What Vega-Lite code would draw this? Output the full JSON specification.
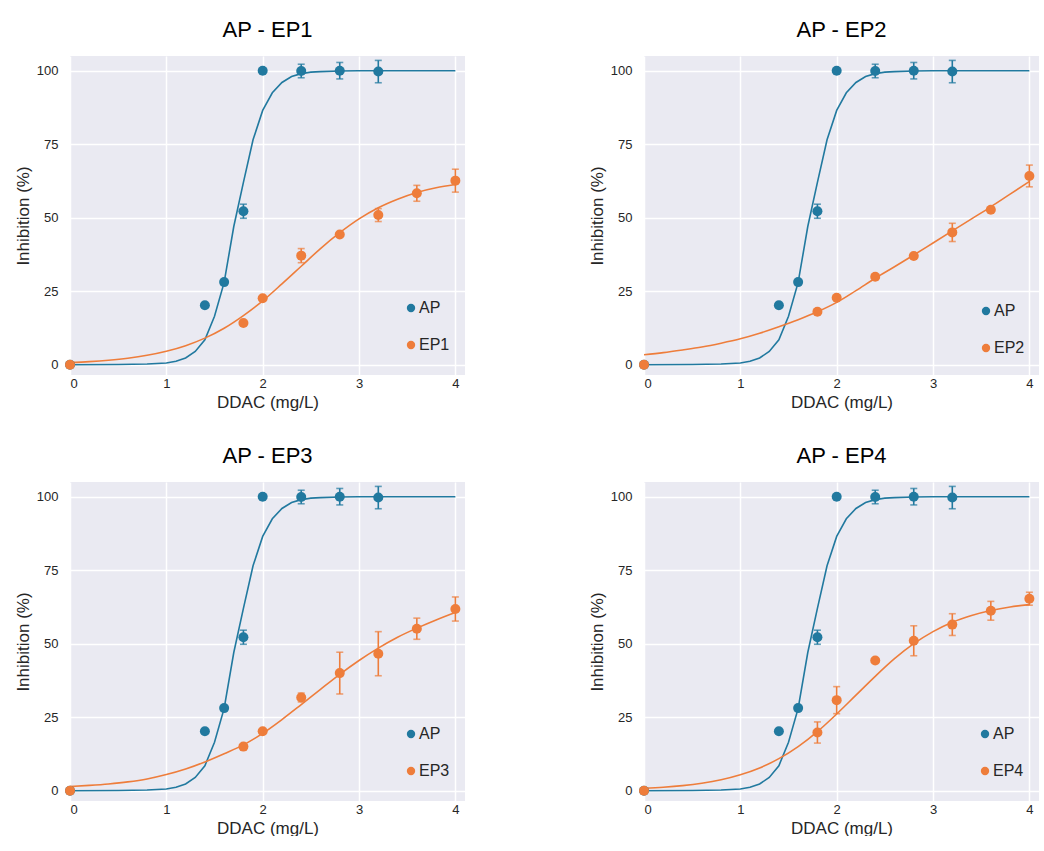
{
  "$schema": "https://vega.github.io/schema/vega-lite/v6.json",
  "background": "white",
  "padding": {"left": 14, "top": 19, "right": 0, "bottom": 0},
  "columns": 2,
  "spacing": {"row": 35, "column": 123},
  "datasets": {
    "pts": [
      {"s": "AP", "x": 0, "y": 0, "err": 0},
      {"s": "AP", "x": 1.4, "y": 20.2, "err": 0},
      {"s": "AP", "x": 1.6, "y": 28.1, "err": 0},
      {"s": "AP", "x": 1.8, "y": 52.2, "err": 2.4},
      {"s": "AP", "x": 2.0, "y": 100, "err": 0},
      {"s": "AP", "x": 2.4, "y": 99.9, "err": 2.3},
      {"s": "AP", "x": 2.8, "y": 100, "err": 2.8},
      {"s": "AP", "x": 3.2, "y": 99.7, "err": 3.8},
      {"s": "EP1", "x": 0, "y": 0, "err": 0},
      {"s": "EP1", "x": 1.8, "y": 14.2, "err": 0},
      {"s": "EP1", "x": 2.0, "y": 22.6, "err": 0},
      {"s": "EP1", "x": 2.4, "y": 37.1, "err": 2.4},
      {"s": "EP1", "x": 2.8, "y": 44.3, "err": 0},
      {"s": "EP1", "x": 3.2, "y": 50.9, "err": 2.2},
      {"s": "EP1", "x": 3.6, "y": 58.3, "err": 2.7},
      {"s": "EP1", "x": 4.0, "y": 62.6, "err": 3.9},
      {"s": "EP2", "x": 0, "y": 0, "err": 0},
      {"s": "EP2", "x": 1.8, "y": 18.0, "err": 0},
      {"s": "EP2", "x": 2.0, "y": 22.8, "err": 0},
      {"s": "EP2", "x": 2.4, "y": 29.9, "err": 0},
      {"s": "EP2", "x": 2.8, "y": 37.0, "err": 0},
      {"s": "EP2", "x": 3.2, "y": 45.0, "err": 3.1},
      {"s": "EP2", "x": 3.6, "y": 52.7, "err": 0},
      {"s": "EP2", "x": 4.0, "y": 64.2, "err": 3.7},
      {"s": "EP3", "x": 0, "y": 0, "err": 0},
      {"s": "EP3", "x": 1.8, "y": 15.0, "err": 0},
      {"s": "EP3", "x": 2.0, "y": 20.2, "err": 0},
      {"s": "EP3", "x": 2.4, "y": 31.7, "err": 1.5},
      {"s": "EP3", "x": 2.8, "y": 40.0, "err": 7.1},
      {"s": "EP3", "x": 3.2, "y": 46.6, "err": 7.5},
      {"s": "EP3", "x": 3.6, "y": 55.1, "err": 3.6},
      {"s": "EP3", "x": 4.0, "y": 61.8, "err": 4.1},
      {"s": "EP4", "x": 0, "y": 0, "err": 0},
      {"s": "EP4", "x": 1.8, "y": 19.8, "err": 3.6},
      {"s": "EP4", "x": 2.0, "y": 30.8, "err": 4.6},
      {"s": "EP4", "x": 2.4, "y": 44.3, "err": 0},
      {"s": "EP4", "x": 2.8, "y": 51.0, "err": 5.1},
      {"s": "EP4", "x": 3.2, "y": 56.5, "err": 3.7},
      {"s": "EP4", "x": 3.6, "y": 61.2, "err": 3.2},
      {"s": "EP4", "x": 4.0, "y": 65.3, "err": 2.2}
    ],
    "fit": [
      {"s": "AP", "x": 0, "y": 0}, {"s": "AP", "x": 0.5, "y": 0.05}, {"s": "AP", "x": 0.8, "y": 0.25},
      {"s": "AP", "x": 0.9, "y": 0.4}, {"s": "AP", "x": 1.0, "y": 0.6}, {"s": "AP", "x": 1.1, "y": 1.2},
      {"s": "AP", "x": 1.2, "y": 2.3}, {"s": "AP", "x": 1.3, "y": 4.5}, {"s": "AP", "x": 1.4, "y": 8.5},
      {"s": "AP", "x": 1.5, "y": 16.5}, {"s": "AP", "x": 1.6, "y": 28}, {"s": "AP", "x": 1.7, "y": 47},
      {"s": "AP", "x": 1.8, "y": 62}, {"s": "AP", "x": 1.9, "y": 76.5}, {"s": "AP", "x": 2.0, "y": 86.5},
      {"s": "AP", "x": 2.1, "y": 92.5}, {"s": "AP", "x": 2.2, "y": 96}, {"s": "AP", "x": 2.3, "y": 98},
      {"s": "AP", "x": 2.4, "y": 99}, {"s": "AP", "x": 2.5, "y": 99.5}, {"s": "AP", "x": 2.6, "y": 99.7},
      {"s": "AP", "x": 2.8, "y": 99.9}, {"s": "AP", "x": 3.0, "y": 100}, {"s": "AP", "x": 3.5, "y": 100},
      {"s": "AP", "x": 4.0, "y": 100},
      {"s": "EP1", "x": 0, "y": 0.73}, {"s": "EP1", "x": 0.2, "y": 1.06}, {"s": "EP1", "x": 0.4, "y": 1.54},
      {"s": "EP1", "x": 0.6, "y": 2.22}, {"s": "EP1", "x": 0.8, "y": 3.2}, {"s": "EP1", "x": 1.0, "y": 4.57},
      {"s": "EP1", "x": 1.2, "y": 6.47}, {"s": "EP1", "x": 1.4, "y": 9.04}, {"s": "EP1", "x": 1.6, "y": 12.4},
      {"s": "EP1", "x": 1.8, "y": 16.7}, {"s": "EP1", "x": 2.0, "y": 21.7}, {"s": "EP1", "x": 2.2, "y": 27.5},
      {"s": "EP1", "x": 2.4, "y": 33.5}, {"s": "EP1", "x": 2.6, "y": 39.5}, {"s": "EP1", "x": 2.8, "y": 44.9},
      {"s": "EP1", "x": 3.0, "y": 49.6}, {"s": "EP1", "x": 3.2, "y": 53.4}, {"s": "EP1", "x": 3.4, "y": 56.3},
      {"s": "EP1", "x": 3.6, "y": 58.6}, {"s": "EP1", "x": 3.8, "y": 60.2}, {"s": "EP1", "x": 4.0, "y": 61.3},
      {"s": "EP2", "x": 0, "y": 3.4}, {"s": "EP2", "x": 0.2, "y": 4.1}, {"s": "EP2", "x": 0.4, "y": 5.0},
      {"s": "EP2", "x": 0.6, "y": 6.0}, {"s": "EP2", "x": 0.8, "y": 7.3}, {"s": "EP2", "x": 1.0, "y": 8.8},
      {"s": "EP2", "x": 1.2, "y": 10.7}, {"s": "EP2", "x": 1.4, "y": 12.9}, {"s": "EP2", "x": 1.6, "y": 15.3},
      {"s": "EP2", "x": 1.8, "y": 18.0}, {"s": "EP2", "x": 2.0, "y": 21.2}, {"s": "EP2", "x": 2.2, "y": 25.2},
      {"s": "EP2", "x": 2.4, "y": 29.4}, {"s": "EP2", "x": 2.6, "y": 33.3}, {"s": "EP2", "x": 2.8, "y": 37.3},
      {"s": "EP2", "x": 3.0, "y": 41.4}, {"s": "EP2", "x": 3.2, "y": 45.5}, {"s": "EP2", "x": 3.4, "y": 49.6},
      {"s": "EP2", "x": 3.6, "y": 53.7}, {"s": "EP2", "x": 3.8, "y": 58.0}, {"s": "EP2", "x": 4.0, "y": 62.3},
      {"s": "EP3", "x": 0, "y": 1.4}, {"s": "EP3", "x": 0.2, "y": 1.8}, {"s": "EP3", "x": 0.4, "y": 2.3},
      {"s": "EP3", "x": 0.6, "y": 3.0}, {"s": "EP3", "x": 0.8, "y": 4.0}, {"s": "EP3", "x": 1.0, "y": 5.5},
      {"s": "EP3", "x": 1.2, "y": 7.4}, {"s": "EP3", "x": 1.4, "y": 9.8}, {"s": "EP3", "x": 1.6, "y": 12.6},
      {"s": "EP3", "x": 1.8, "y": 15.6}, {"s": "EP3", "x": 2.0, "y": 19.5}, {"s": "EP3", "x": 2.2, "y": 24.2},
      {"s": "EP3", "x": 2.4, "y": 29.3}, {"s": "EP3", "x": 2.6, "y": 34.5}, {"s": "EP3", "x": 2.8, "y": 39.6},
      {"s": "EP3", "x": 3.0, "y": 44.3}, {"s": "EP3", "x": 3.2, "y": 48.5}, {"s": "EP3", "x": 3.4, "y": 52.2},
      {"s": "EP3", "x": 3.6, "y": 55.3}, {"s": "EP3", "x": 3.8, "y": 58.1}, {"s": "EP3", "x": 4.0, "y": 60.6},
      {"s": "EP4", "x": 0, "y": 0.79}, {"s": "EP4", "x": 0.2, "y": 1.17}, {"s": "EP4", "x": 0.4, "y": 1.73},
      {"s": "EP4", "x": 0.6, "y": 2.55}, {"s": "EP4", "x": 0.8, "y": 3.73}, {"s": "EP4", "x": 1.0, "y": 5.42},
      {"s": "EP4", "x": 1.2, "y": 7.75}, {"s": "EP4", "x": 1.4, "y": 10.9}, {"s": "EP4", "x": 1.6, "y": 15.0},
      {"s": "EP4", "x": 1.8, "y": 20.1}, {"s": "EP4", "x": 2.0, "y": 26.1}, {"s": "EP4", "x": 2.2, "y": 32.5},
      {"s": "EP4", "x": 2.4, "y": 38.9}, {"s": "EP4", "x": 2.6, "y": 44.9}, {"s": "EP4", "x": 2.8, "y": 50.0},
      {"s": "EP4", "x": 3.0, "y": 54.1}, {"s": "EP4", "x": 3.2, "y": 57.3}, {"s": "EP4", "x": 3.4, "y": 59.6},
      {"s": "EP4", "x": 3.6, "y": 61.3}, {"s": "EP4", "x": 3.8, "y": 62.5}, {"s": "EP4", "x": 4.0, "y": 63.3}
    ]
  },
  "concat": [
    {
      "title": "AP - EP1", "width": 395, "height": 319,
      "layer": [
        {"data": {"name": "fit"}, "transform": [{"filter": "datum.s == 'AP'"}], "mark": {"type": "line", "color": "#21799f", "strokeWidth": 1.6},
         "encoding": {"x": {"field": "x", "type": "quantitative", "scale": {"domain": [0, 4.1], "nice": false, "zero": false}, "axis": {"values": [0, 1, 2, 3, 4], "format": "d", "title": "DDAC (mg/L)"}},
                      "y": {"field": "y", "type": "quantitative", "scale": {"domain": [-3.5, 105], "nice": false, "zero": false}, "axis": {"values": [0, 25, 50, 75, 100], "format": "d", "title": "Inhibition (%)"}}}},
        {"data": {"name": "fit"}, "transform": [{"filter": "datum.s == 'EP1'"}], "mark": {"type": "line", "color": "#ee7d3b", "strokeWidth": 1.6, "interpolate": "monotone"},
         "encoding": {"x": {"field": "x", "type": "quantitative", "axis": {"title": "DDAC (mg/L)"}}, "y": {"field": "y", "type": "quantitative", "axis": {"title": "Inhibition (%)"}}}},
        {"data": {"name": "pts"}, "transform": [{"filter": "datum.s == 'AP' && datum.err > 0"}], "mark": {"type": "errorbar", "ticks": true, "size": 7, "thickness": 1.6, "color": "#21799f"},
         "encoding": {"x": {"field": "x", "type": "quantitative", "axis": {"title": "DDAC (mg/L)"}}, "y": {"field": "y", "type": "quantitative", "axis": {"title": "Inhibition (%)"}}, "yError": {"field": "err"}}},
        {"data": {"name": "pts"}, "transform": [{"filter": "datum.s == 'EP1' && datum.err > 0"}], "mark": {"type": "errorbar", "ticks": true, "size": 7, "thickness": 1.6, "color": "#ee7d3b"},
         "encoding": {"x": {"field": "x", "type": "quantitative", "axis": {"title": "DDAC (mg/L)"}}, "y": {"field": "y", "type": "quantitative", "axis": {"title": "Inhibition (%)"}}, "yError": {"field": "err"}}},
        {"data": {"name": "pts"}, "transform": [{"filter": "datum.s == 'AP' || datum.s == 'EP1'"}], "mark": {"type": "circle", "size": 100, "opacity": 1},
         "encoding": {"x": {"field": "x", "type": "quantitative", "axis": {"title": "DDAC (mg/L)"}}, "y": {"field": "y", "type": "quantitative", "axis": {"title": "Inhibition (%)"}},
                      "color": {"field": "s", "type": "nominal", "scale": {"domain": ["AP", "EP1"], "range": ["#21799f", "#ee7d3b"]}, "legend": {"orient": "none", "legendX": 333, "legendY": 244, "title": null}}}}
      ]
    },
    {
      "title": "AP - EP2", "width": 395, "height": 319,
      "layer": [
        {"data": {"name": "fit"}, "transform": [{"filter": "datum.s == 'AP'"}], "mark": {"type": "line", "color": "#21799f", "strokeWidth": 1.6},
         "encoding": {"x": {"field": "x", "type": "quantitative", "scale": {"domain": [0, 4.1], "nice": false, "zero": false}, "axis": {"values": [0, 1, 2, 3, 4], "format": "d", "title": "DDAC (mg/L)"}},
                      "y": {"field": "y", "type": "quantitative", "scale": {"domain": [-3.5, 105], "nice": false, "zero": false}, "axis": {"values": [0, 25, 50, 75, 100], "format": "d", "title": "Inhibition (%)"}}}},
        {"data": {"name": "fit"}, "transform": [{"filter": "datum.s == 'EP2'"}], "mark": {"type": "line", "color": "#ee7d3b", "strokeWidth": 1.6, "interpolate": "monotone"},
         "encoding": {"x": {"field": "x", "type": "quantitative", "axis": {"title": "DDAC (mg/L)"}}, "y": {"field": "y", "type": "quantitative", "axis": {"title": "Inhibition (%)"}}}},
        {"data": {"name": "pts"}, "transform": [{"filter": "datum.s == 'AP' && datum.err > 0"}], "mark": {"type": "errorbar", "ticks": true, "size": 7, "thickness": 1.6, "color": "#21799f"},
         "encoding": {"x": {"field": "x", "type": "quantitative", "axis": {"title": "DDAC (mg/L)"}}, "y": {"field": "y", "type": "quantitative", "axis": {"title": "Inhibition (%)"}}, "yError": {"field": "err"}}},
        {"data": {"name": "pts"}, "transform": [{"filter": "datum.s == 'EP2' && datum.err > 0"}], "mark": {"type": "errorbar", "ticks": true, "size": 7, "thickness": 1.6, "color": "#ee7d3b"},
         "encoding": {"x": {"field": "x", "type": "quantitative", "axis": {"title": "DDAC (mg/L)"}}, "y": {"field": "y", "type": "quantitative", "axis": {"title": "Inhibition (%)"}}, "yError": {"field": "err"}}},
        {"data": {"name": "pts"}, "transform": [{"filter": "datum.s == 'AP' || datum.s == 'EP2'"}], "mark": {"type": "circle", "size": 100, "opacity": 1},
         "encoding": {"x": {"field": "x", "type": "quantitative", "axis": {"title": "DDAC (mg/L)"}}, "y": {"field": "y", "type": "quantitative", "axis": {"title": "Inhibition (%)"}},
                      "color": {"field": "s", "type": "nominal", "scale": {"domain": ["AP", "EP2"], "range": ["#21799f", "#ee7d3b"]}, "legend": {"orient": "none", "legendX": 334, "legendY": 247, "title": null}}}}
      ]
    },
    {
      "title": "AP - EP3", "width": 395, "height": 319,
      "layer": [
        {"data": {"name": "fit"}, "transform": [{"filter": "datum.s == 'AP'"}], "mark": {"type": "line", "color": "#21799f", "strokeWidth": 1.6},
         "encoding": {"x": {"field": "x", "type": "quantitative", "scale": {"domain": [0, 4.1], "nice": false, "zero": false}, "axis": {"values": [0, 1, 2, 3, 4], "format": "d", "title": "DDAC (mg/L)"}},
                      "y": {"field": "y", "type": "quantitative", "scale": {"domain": [-3.5, 105], "nice": false, "zero": false}, "axis": {"values": [0, 25, 50, 75, 100], "format": "d", "title": "Inhibition (%)"}}}},
        {"data": {"name": "fit"}, "transform": [{"filter": "datum.s == 'EP3'"}], "mark": {"type": "line", "color": "#ee7d3b", "strokeWidth": 1.6, "interpolate": "monotone"},
         "encoding": {"x": {"field": "x", "type": "quantitative", "axis": {"title": "DDAC (mg/L)"}}, "y": {"field": "y", "type": "quantitative", "axis": {"title": "Inhibition (%)"}}}},
        {"data": {"name": "pts"}, "transform": [{"filter": "datum.s == 'AP' && datum.err > 0"}], "mark": {"type": "errorbar", "ticks": true, "size": 7, "thickness": 1.6, "color": "#21799f"},
         "encoding": {"x": {"field": "x", "type": "quantitative", "axis": {"title": "DDAC (mg/L)"}}, "y": {"field": "y", "type": "quantitative", "axis": {"title": "Inhibition (%)"}}, "yError": {"field": "err"}}},
        {"data": {"name": "pts"}, "transform": [{"filter": "datum.s == 'EP3' && datum.err > 0"}], "mark": {"type": "errorbar", "ticks": true, "size": 7, "thickness": 1.6, "color": "#ee7d3b"},
         "encoding": {"x": {"field": "x", "type": "quantitative", "axis": {"title": "DDAC (mg/L)"}}, "y": {"field": "y", "type": "quantitative", "axis": {"title": "Inhibition (%)"}}, "yError": {"field": "err"}}},
        {"data": {"name": "pts"}, "transform": [{"filter": "datum.s == 'AP' || datum.s == 'EP3'"}], "mark": {"type": "circle", "size": 100, "opacity": 1},
         "encoding": {"x": {"field": "x", "type": "quantitative", "axis": {"title": "DDAC (mg/L)"}}, "y": {"field": "y", "type": "quantitative", "axis": {"title": "Inhibition (%)"}},
                      "color": {"field": "s", "type": "nominal", "scale": {"domain": ["AP", "EP3"], "range": ["#21799f", "#ee7d3b"]}, "legend": {"orient": "none", "legendX": 333, "legendY": 244, "title": null}}}}
      ]
    },
    {
      "title": "AP - EP4", "width": 395, "height": 319,
      "layer": [
        {"data": {"name": "fit"}, "transform": [{"filter": "datum.s == 'AP'"}], "mark": {"type": "line", "color": "#21799f", "strokeWidth": 1.6},
         "encoding": {"x": {"field": "x", "type": "quantitative", "scale": {"domain": [0, 4.1], "nice": false, "zero": false}, "axis": {"values": [0, 1, 2, 3, 4], "format": "d", "title": "DDAC (mg/L)"}},
                      "y": {"field": "y", "type": "quantitative", "scale": {"domain": [-3.5, 105], "nice": false, "zero": false}, "axis": {"values": [0, 25, 50, 75, 100], "format": "d", "title": "Inhibition (%)"}}}},
        {"data": {"name": "fit"}, "transform": [{"filter": "datum.s == 'EP4'"}], "mark": {"type": "line", "color": "#ee7d3b", "strokeWidth": 1.6, "interpolate": "monotone"},
         "encoding": {"x": {"field": "x", "type": "quantitative", "axis": {"title": "DDAC (mg/L)"}}, "y": {"field": "y", "type": "quantitative", "axis": {"title": "Inhibition (%)"}}}},
        {"data": {"name": "pts"}, "transform": [{"filter": "datum.s == 'AP' && datum.err > 0"}], "mark": {"type": "errorbar", "ticks": true, "size": 7, "thickness": 1.6, "color": "#21799f"},
         "encoding": {"x": {"field": "x", "type": "quantitative", "axis": {"title": "DDAC (mg/L)"}}, "y": {"field": "y", "type": "quantitative", "axis": {"title": "Inhibition (%)"}}, "yError": {"field": "err"}}},
        {"data": {"name": "pts"}, "transform": [{"filter": "datum.s == 'EP4' && datum.err > 0"}], "mark": {"type": "errorbar", "ticks": true, "size": 7, "thickness": 1.6, "color": "#ee7d3b"},
         "encoding": {"x": {"field": "x", "type": "quantitative", "axis": {"title": "DDAC (mg/L)"}}, "y": {"field": "y", "type": "quantitative", "axis": {"title": "Inhibition (%)"}}, "yError": {"field": "err"}}},
        {"data": {"name": "pts"}, "transform": [{"filter": "datum.s == 'AP' || datum.s == 'EP4'"}], "mark": {"type": "circle", "size": 100, "opacity": 1},
         "encoding": {"x": {"field": "x", "type": "quantitative", "axis": {"title": "DDAC (mg/L)"}}, "y": {"field": "y", "type": "quantitative", "axis": {"title": "Inhibition (%)"}},
                      "color": {"field": "s", "type": "nominal", "scale": {"domain": ["AP", "EP4"], "range": ["#21799f", "#ee7d3b"]}, "legend": {"orient": "none", "legendX": 333, "legendY": 244, "title": null}}}}
      ]
    }
  ],
  "resolve": {"scale": {"color": "independent", "x": "independent", "y": "independent"}, "legend": {"color": "independent"}},
  "config": {
    "view": {"fill": "#eaeaf2", "stroke": null},
    "font": "Liberation Sans",
    "title": {"font": "Liberation Sans", "fontSize": 22, "fontWeight": "normal", "color": "#000000", "offset": 14, "anchor": "middle"},
    "axis": {"domain": false, "ticks": false, "tickSize": 0, "grid": true, "gridColor": "#ffffff", "gridWidth": 1.5, "gridOpacity": 1,
             "labelFont": "Liberation Sans", "labelFontSize": 13, "labelColor": "#262626",
             "titleFont": "Liberation Sans", "titleFontSize": 17, "titleFontWeight": "normal", "titleColor": "#262626"},
    "axisX": {"labelPadding": 2, "titlePadding": 4},
    "axisY": {"labelPadding": 12, "titlePadding": 4},
    "legend": {"labelFont": "Liberation Sans", "labelFontSize": 16, "labelColor": "#262626", "symbolSize": 70, "symbolType": "circle", "symbolOpacity": 1,
               "rowPadding": 21, "labelOffset": 0, "padding": 0}
  }
}
